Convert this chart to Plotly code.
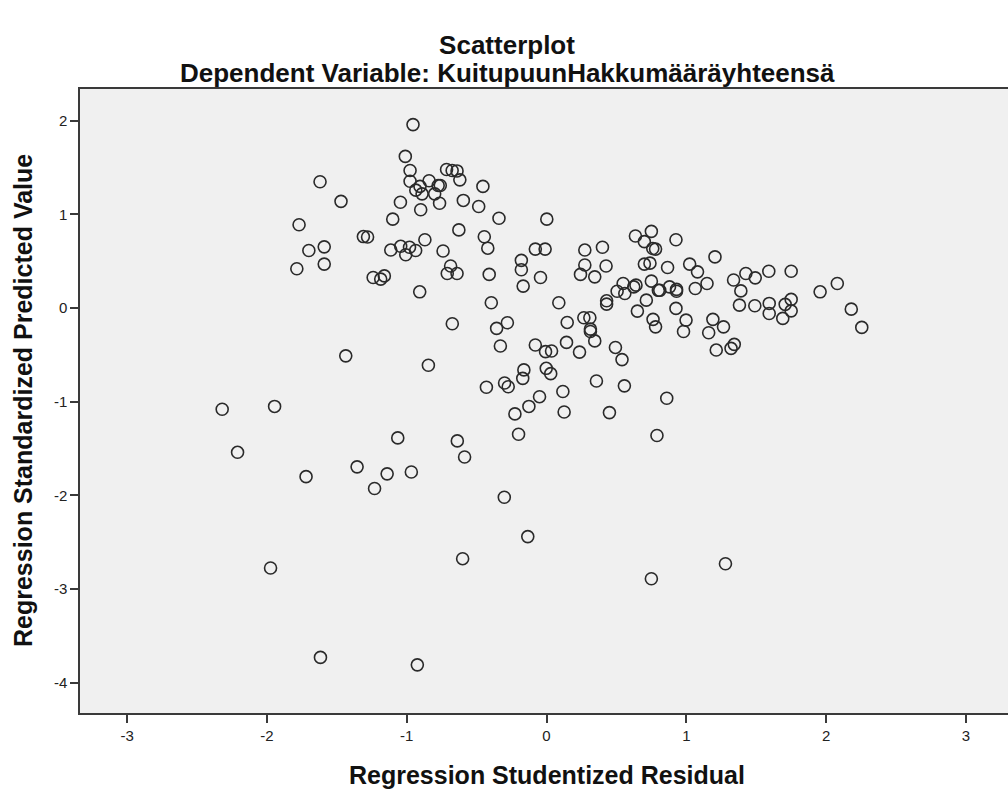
import plotly.graph_objects as go

# Regression Studentized Residual (x) and Regression Standardized Predicted Value (y)
points = [
    (-0.955, 1.96), (-1.01, 1.62), (-0.976, 1.47), (-0.976, 1.355), (-0.935, 1.26),
    (-0.905, 1.30), (-0.89, 1.22), (-0.84, 1.36), (-0.775, 1.31), (-0.76, 1.31),
    (-0.80, 1.22), (-0.765, 1.12), (-0.90, 1.05), (-1.045, 1.13), (-1.10, 0.95),
    (-0.715, 1.48), (-0.675, 1.47), (-0.64, 1.465), (-0.62, 1.37), (-0.455, 1.30),
    (-0.595, 1.15), (-0.485, 1.085), (-0.34, 0.96), (-0.627, 0.835), (-0.445, 0.762),
    (-0.87, 0.73), (-1.31, 0.764), (-1.28, 0.76), (-1.114, 0.62), (-1.043, 0.66),
    (-0.98, 0.65), (-0.936, 0.615), (-1.007, 0.57), (-0.74, 0.61), (-0.42, 0.64),
    (-1.62, 1.35), (-1.47, 1.14), (-1.77, 0.89), (-1.70, 0.615), (-1.59, 0.654),
    (-1.786, 0.42), (-1.59, 0.47), (-0.686, 0.45), (-0.71, 0.37), (-0.64, 0.37),
    (-1.24, 0.327), (-1.186, 0.31), (-1.16, 0.344), (-0.907, 0.174), (-0.674, -0.167),
    (-0.41, 0.36), (-0.395, 0.057), (-0.357, -0.216),
    (0.002, 0.95), (-0.18, 0.51), (-0.18, 0.41), (-0.08, 0.63), (-0.01, 0.63),
    (-0.043, 0.327), (-0.167, 0.235), (0.274, 0.62), (0.40, 0.65), (0.274, 0.46),
    (0.426, 0.45), (0.243, 0.36), (0.345, 0.334), (0.636, 0.77), (0.75, 0.82),
    (0.70, 0.71), (0.76, 0.636), (0.78, 0.63), (0.926, 0.73), (1.205, 0.547),
    (0.70, 0.47), (0.74, 0.48), (0.866, 0.434), (1.024, 0.47), (1.08, 0.387),
    (1.148, 0.263), (1.064, 0.21), (0.75, 0.288), (0.80, 0.19), (0.81, 0.19),
    (0.88, 0.227), (0.93, 0.20), (0.93, 0.18), (0.548, 0.263), (0.505, 0.18),
    (0.56, 0.156), (0.624, 0.227), (0.64, 0.245), (0.43, 0.078), (0.43, 0.043),
    (0.088, 0.057), (0.714, 0.085), (0.65, -0.032), (0.926, -0.003), (0.762, -0.12),
    (0.78, -0.20), (0.998, -0.128), (0.98, -0.25), (1.19, -0.12), (1.266, -0.20),
    (1.16, -0.263), (1.214, -0.448), (1.32, -0.43), (1.343, -0.387), (1.338, 0.30),
    (1.426, 0.37), (1.493, 0.323), (1.39, 0.184), (1.38, 0.032), (1.49, 0.025),
    (0.267, -0.103), (0.31, -0.103), (0.314, -0.224), (0.314, -0.25), (0.345, -0.35),
    (0.148, -0.153), (0.143, -0.366), (0.236, -0.47), (0.493, -0.42), (0.54, -0.55),
    (-0.08, -0.394), (-0.007, -0.465), (0.036, -0.458), (-0.33, -0.405), (-0.28, -0.156),
    (-0.43, -0.845), (-0.30, -0.80), (-0.274, -0.84), (-0.162, -0.66), (-0.17, -0.75),
    (-0.002, -0.643), (0.03, -0.70), (-0.05, -0.946), (0.117, -0.89), (0.357, -0.778),
    (0.557, -0.83), (0.86, -0.963),
    (1.59, 0.394), (1.75, 0.394), (1.593, 0.05), (1.593, -0.057), (1.707, 0.04),
    (1.75, 0.093), (1.75, -0.029), (1.69, -0.11), (1.957, 0.174), (2.08, 0.263),
    (2.18, -0.011), (2.255, -0.206),
    (-2.32, -1.08), (-1.945, -1.05), (-2.21, -1.54), (-1.72, -1.80), (-1.355, -1.695),
    (-1.23, -1.926), (-1.14, -1.77), (-0.967, -1.75), (-1.064, -1.386), (-0.638, -1.418),
    (-0.586, -1.59), (-1.436, -0.51), (-0.845, -0.61),
    (-0.126, -1.05), (-0.226, -1.13), (0.126, -1.11), (0.45, -1.116), (0.79, -1.36),
    (-0.20, -1.347), (-0.302, -2.02), (-0.134, -2.44),
    (-1.974, -2.775), (-0.60, -2.676), (0.75, -2.89), (1.28, -2.73),
    (-1.617, -3.73), (-0.924, -3.81),
]
residuals = [p[0] for p in points]
predicted = [p[1] for p in points]

x_ticks = [-3, -2, -1, 0, 1, 2, 3]
x_ticktext = ["-3", "-2", "-1", "0", "1", "2", "3"]
y_ticks = [2, 1, 0, -1, -2, -3, -4]
y_ticktext = ["2", "1", "0", "-1", "-2", "-3", "-4"]

title_text = "Scatterplot"
subtitle_text = "Dependent Variable: KuitupuunHakkumääräyhteensä"
x_title = "Regression Studentized Residual"
y_title = "Regression Standardized Predicted Value"

FONT = "Liberation Sans, Arial, sans-serif"

fig = go.Figure()
fig.add_trace(go.Scatter(
    x=residuals, y=predicted, mode="markers",
    marker=dict(symbol="circle-open", size=12, color="#2a2a2a",
                line=dict(width=1.6, color="#2a2a2a")),
    hoverinfo="x+y", showlegend=False,
))

fig.update_layout(
    width=1008, height=789,
    margin=dict(l=80, r=0, t=89, b=76),
    paper_bgcolor="white",
    plot_bgcolor="#F0F0F0",
    font=dict(family=FONT, color="#222222"),
    title=dict(text="<b>" + title_text + "</b>", x=0.503, xanchor="center",
               y=1 - 45 / 789, yanchor="middle", yref="container",
               font=dict(size=26, family=FONT, color="#111111")),
    xaxis=dict(range=[-3.337, 3.301], tickvals=x_ticks, ticktext=x_ticktext,
               showgrid=False, zeroline=False, showline=True, linecolor="#3a3a3a",
               linewidth=1.5, mirror=True, ticks="outside", ticklen=8, tickwidth=1.5,
               tickcolor="#3a3a3a", tickfont=dict(size=15, color="#222222")),
    yaxis=dict(range=[-4.324, 2.340], tickvals=y_ticks, ticktext=y_ticktext,
               showgrid=False, zeroline=False, showline=True, linecolor="#3a3a3a",
               linewidth=1.5, ticks="outside", ticklen=8, tickwidth=1.5,
               tickcolor="#3a3a3a", tickfont=dict(size=15, color="#222222")),
    annotations=[
        dict(text="<b>" + subtitle_text + "</b>", xref="paper", yref="paper",
             x=(507 - 80) / 928, y=1 + 16 / 624, xanchor="center", yanchor="middle",
             showarrow=False, font=dict(size=26, family=FONT, color="#111111")),
        dict(text="<b>" + x_title + "</b>", xref="paper", yref="paper",
             x=(547 - 80) / 928, y=-(775 - 713) / 624, xanchor="center", yanchor="middle",
             showarrow=False, font=dict(size=25, family=FONT, color="#111111")),
        dict(text="<b>" + y_title + "</b>", xref="paper", yref="paper",
             x=(23 - 80) / 928, y=0.5, xanchor="center", yanchor="middle",
             textangle=-90, showarrow=False,
             font=dict(size=25, family=FONT, color="#111111")),
    ],
)

fig.write_html("out.html")
